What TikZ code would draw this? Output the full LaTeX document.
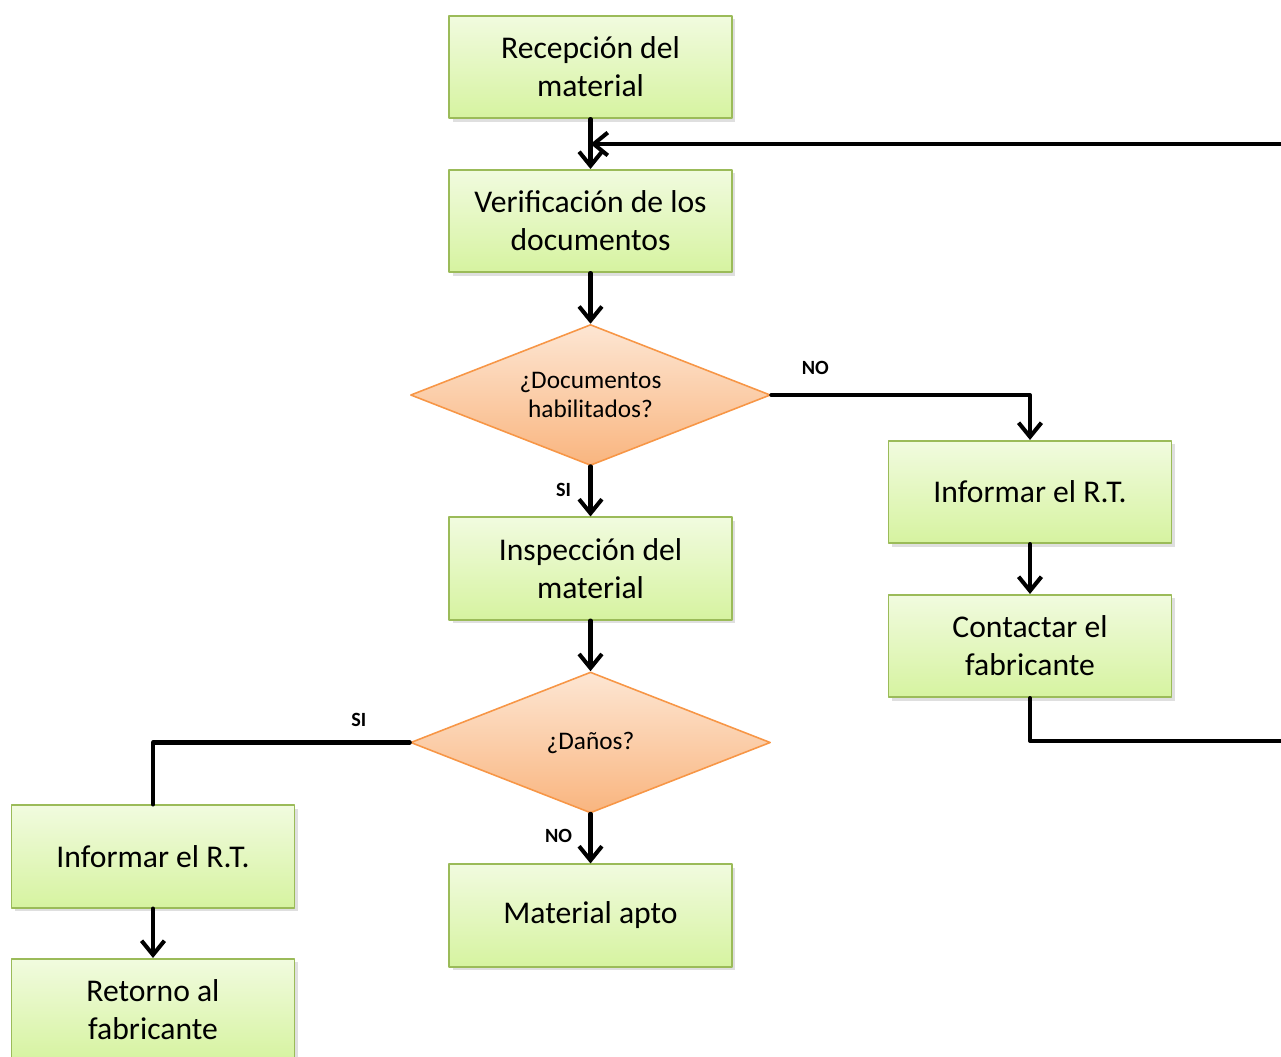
\documentclass[tikz,border=0pt]{standalone}
\usepackage{fontspec}
\setmainfont{Carlito}
\usetikzlibrary{arrows.meta,shapes.geometric,shadows,calc}
\definecolor{boxtop}{HTML}{F1FBDF}
\definecolor{boxbot}{HTML}{D6F3A0}
\definecolor{boxline}{HTML}{9BBB59}
\definecolor{dectop}{HTML}{FDE6D3}
\definecolor{decbot}{HTML}{F9B57F}
\definecolor{decline}{HTML}{F79646}
\tikzset{
    stepbox/.style={
        rectangle, draw=boxline, line width=0.9pt,
        top color=boxtop, bottom color=boxbot,
        minimum width=5.66cm, minimum height=2.05cm,
        align=center, font=\fontsize{18}{21.5}\selectfont,
        drop shadow={shadow xshift=2pt, shadow yshift=-2pt, opacity=0.25}
    },
    decision/.style={
        diamond, aspect=2.56, draw=decline, line width=0.9pt,
        top color=dectop, bottom color=decbot,
        minimum width=7.2cm, minimum height=2.82cm, inner sep=0pt,
        align=center, font=\fontsize{14.4}{17}\selectfont
    },
    flow/.style={
        line width=2.3pt, {-{Straight Barb[length=8pt,width=13pt]}}
    },
    lab/.style={
        font=\fontsize{11.5}{13}\selectfont\bfseries
    }
}

\begin{document}
\begin{tikzpicture}[x=0.02cm,y=-0.02cm, line cap=round, line join=round]

\useasboundingbox (0,0) rectangle (1281,1056);

% central column
\node[stepbox] (recep) at (590.5,67) {Recepción del\\material};
\node[stepbox] (verif) at (590.5,221) {Verificación de los\\documentos};
\node[decision] (docs) at (590.5,395) {¿Documentos\\habilitados?};
\node[stepbox] (insp) at (590.5,568.5) {Inspección del\\material};
\node[decision] (danos) at (590.5,742.5) {¿Daños?};
\node[stepbox] (apto) at (590.5,915.5) {Material apto};

% right branch
\node[stepbox] (infoR) at (1030,492) {Informar el R.T.};
\node[stepbox] (contacto) at (1030,646) {Contactar el\\fabricante};

% left branch
\node[stepbox] (infoL) at (153,856.5) {Informar el R.T.};
\node[stepbox] (retorno) at (153,1010) {Retorno al\\fabricante};

\coordinate (jn) at (recep.south |- 0,144);

\draw[flow] (recep) -- (verif);
\draw[flow] (verif) -- (docs);
\draw[flow] (docs.east) -| (infoR.north);
\draw[flow] (docs) -- (insp);
\draw[flow] (insp) -- (danos);
\draw[flow] (danos) -- (apto);
\draw[flow] (infoR) -- (contacto);
\draw[line width=2.3pt] (danos.west) -| (infoL.north);
\draw[flow] (infoL) -- (retorno);

% loop back to the documents check
\draw[flow] (contacto.south) -- ++(0,43) -- ++(300,0) |- (jn);

\node[lab] (noA) at ($(docs.east)+(44,-27)$) {NO};
\node[lab] (siA) at ($(docs.south)+(-27,24)$) {SI};
\node[lab] (siB) at ($(danos.west)+(-51,-23)$) {SI};
\node[lab] (noB) at ($(danos.south)+(-32,22)$) {NO};

\end{tikzpicture}
\end{document}
